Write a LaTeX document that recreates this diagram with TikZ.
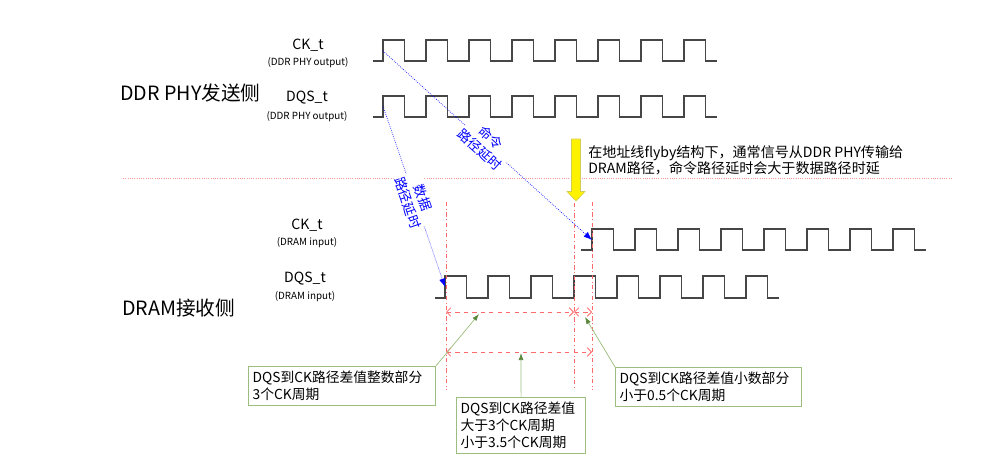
\documentclass[tikz,border=0pt]{standalone}
\usepackage{fontspec}
\setmainfont{Noto Sans CJK SC}
\usepackage{tikz}
\usetikzlibrary{arrows.meta}
\usepackage{xcolor}
\definecolor{wavegray}{RGB}{70,70,70}
\definecolor{notegreen}{RGB}{155,190,125}
\definecolor{tipgreen}{RGB}{90,135,60}
\definecolor{markred}{RGB}{255,105,105}

\begin{document}
\begin{tikzpicture}[x=0.025cm, y=-0.025cm,
	wave/.style={wavegray, line width=0.9pt},
	sig/.style={font=\fontsize{10}{12}\selectfont, inner sep=0pt},
	sub/.style={font=\fontsize{7}{8}\selectfont, inner sep=0pt},
	side/.style={font=\fontsize{14}{16}\selectfont, inner sep=0pt, anchor=west},
	delay/.style={blue, densely dotted, line width=0.5pt, -{Latex[length=6pt,width=4.5pt]}},
	delaylabel/.style={sloped, fill=white, text=blue, align=center, inner sep=0.5pt, font=\fontsize{9.5}{11.5}\selectfont},
	guide/.style={markred, dash dot, line width=0.6pt},
	span/.style={markred, dashed, line width=0.6pt, {Straight Barb[length=3pt,width=6pt]}-{Straight Barb[length=3pt,width=6pt]}},
	note/.style={draw=notegreen, line width=0.6pt, fill=white, align=left, anchor=north west, inner sep=3pt, font=\fontsize{9.8}{12.3}\selectfont},
	leader/.style={notegreen, line width=0.5pt, -{Latex[length=5pt,width=3.5pt,color=tipgreen]}}]
	\useasboundingbox (0,0) rectangle (1000,467);

	% waveforms
	\draw[wave] (373,61) -- (383,61) foreach \i in {1,...,7} {-- ++(0,-21) -- ++(21.5,0) -- ++(0,21) -- ++(21.5,0)} -- ++(0,-21) -- ++(21.5,0) -- ++(0,21) -- ++(11,0);
	\draw[wave] (373,117) -- (383,117) foreach \i in {1,...,7} {-- ++(0,-21) -- ++(21.5,0) -- ++(0,21) -- ++(21.5,0)} -- ++(0,-21) -- ++(21.5,0) -- ++(0,21) -- ++(11,0);
	\draw[wave] (581,250) -- (592,250) foreach \i in {1,...,7} {-- ++(0,-21) -- ++(21.5,0) -- ++(0,21) -- ++(21.5,0)} -- ++(0,-21) -- ++(21.5,0) -- ++(0,21) -- ++(11,0);
	\draw[wave] (435,298) -- (445,298) foreach \i in {1,...,7} {-- ++(0,-22) -- ++(21.5,0) -- ++(0,22) -- ++(21.5,0)} -- ++(0,-22) -- ++(21.5,0) -- ++(0,22) -- ++(11,0);

	% signal names
	\node[sig] (ckphy) at (308,45) {CK\_t};
	\node[sub] (ckphyio) at (308,63) {(DDR PHY output)};
	\node[sig] (dqsphy) at (307,98) {DQS\_t};
	\node[sub] (dqsphyio) at (307,117) {(DDR PHY output)};
	\node[sig] (ckdram) at (307,225) {CK\_t};
	\node[sub] (ckdramio) at (307,243) {(DRAM input)};
	\node[sig] (dqsdram) at (305,279) {DQS\_t};
	\node[sub] (dqsdramio) at (305,297) {(DRAM input)};
	\node[side] (physide) at (120,93) {DDR PHY发送侧};
	\node[side] (dramside) at (122,308) {DRAM接收侧};

	% border between the two sides
	\draw[markred!70, densely dotted, line width=0.6pt] (123,178) -- (953,178);

	% path delays
	\coordinate (cksend) at (383,51);
	\coordinate (ckrecv) at (592,240);
	\coordinate (dqssend) at (383,106);
	\coordinate (dqsrecv) at (445,287);
	\draw[delay] (cksend) -- node[delaylabel, pos=0.49] {命令\\路径延时} (ckrecv);
	\draw[delay] (dqssend) -- node[delaylabel, pos=0.52] {数据\\路径延时} (dqsrecv);

	% flyby note
	\fill[yellow, draw=yellow!60!gray, line width=0.4pt] (571.5,139) -- (580.5,139) -- (580.5,191.5) -- (585,191.5) -- (576,201) -- (567,191.5) -- (571.5,191.5) -- cycle;
	\node[anchor=west, align=left, inner sep=0pt, font=\fontsize{10}{11.2}\selectfont] (flyby) at (588,160.5) {在地址线flyby结构下，通常信号从DDR PHY传输给\\DRAM路径，命令路径延时会大于数据路径时延};

	% edge markers
	\draw[guide] (446,202) -- (446,390);
	\draw[guide] (574,203) -- (574,387);
	\draw[guide] (592,202) -- (592,390);
	\coordinate (intl) at (446,312);
	\coordinate (intr) at (574,312);
	\coordinate (fracr) at (592,312);
	\coordinate (alll) at (446,352);
	\coordinate (allr) at (592,352);
	\draw[span] (intl) -- (intr);
	\draw[span] (intr) -- (fracr);
	\draw[span] (alll) -- (allr);

	% notes
	\node[note, text width=127pt] (intpart) at (248,366) {DQS到CK路径差值整数部分\\3个CK周期};
	\node[note, text width=86pt] (diffall) at (456,397) {DQS到CK路径差值\\大于3个CK周期\\小于3.5个CK周期};
	\node[note, text width=126.5pt] (fracpart) at (615,367) {DQS到CK路径差值小数部分\\小于0.5个CK周期};
	\coordinate (intmark) at (479,314);
	\coordinate (allmark) at (521,353);
	\coordinate (fracmark) at (585,317);
	\draw[leader] (intpart.north east) -- (intmark);
	\draw[leader] (diffall.north) -- (allmark);
	\draw[leader] (fracpart.north west) -- (fracmark);
\end{tikzpicture}
\end{document}
